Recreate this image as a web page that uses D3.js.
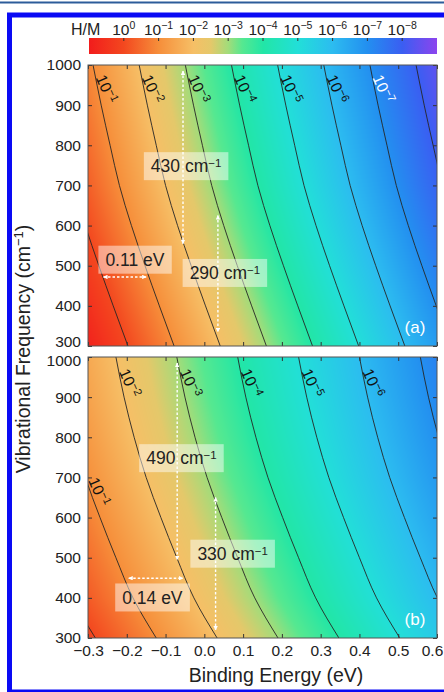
<!DOCTYPE html>
<html>
<head>
<meta charset="utf-8">
<script src="https://cdn.jsdelivr.net/npm/d3@7"></script>
<style>
  html, body { margin: 0; padding: 0; background: #fff; }
  svg { display: block; font-family: "Liberation Sans", Arial, Helvetica, sans-serif; }
</style>
</head>
<body>
<svg id="chart" width="444" height="692"></svg>
<script>
// ---- data -------------------------------------------------------------
// vibrational-frequency rows (cm^-1) at which contour positions are given
const FREQ_ROWS = [1000, 900, 800, 700, 600, 500, 400, 300];
// decades of H/M drawn as contours (log10 values)
const LEVELS = [0, -1, -2, -3, -4, -5, -6, -7, -8];

// binding energy (eV) of each iso-H/M contour, one row per level, one column per FREQ_ROWS entry
const contoursA = [
  [-0.406, -0.385, -0.362, -0.338, -0.307, -0.272, -0.235, -0.197],
  [-0.287, -0.266, -0.243, -0.219, -0.188, -0.153, -0.116, -0.078],
  [-0.168, -0.147, -0.124, -0.100, -0.069, -0.034,  0.003,  0.041],
  [-0.049, -0.028, -0.005,  0.019,  0.050,  0.085,  0.122,  0.160],
  [ 0.070,  0.091,  0.114,  0.138,  0.169,  0.204,  0.241,  0.279],
  [ 0.189,  0.210,  0.233,  0.257,  0.288,  0.323,  0.360,  0.398],
  [ 0.308,  0.329,  0.352,  0.376,  0.407,  0.442,  0.479,  0.517],
  [ 0.427,  0.448,  0.471,  0.495,  0.526,  0.561,  0.598,  0.636],
  [ 0.546,  0.567,  0.590,  0.614,  0.645,  0.680,  0.717,  0.755]
];
const contoursB = [
  [-0.542, -0.521, -0.495, -0.464, -0.426, -0.385, -0.341, -0.281],
  [-0.385, -0.364, -0.338, -0.307, -0.269, -0.228, -0.184, -0.124],
  [-0.228, -0.207, -0.181, -0.150, -0.112, -0.071, -0.027,  0.033],
  [-0.071, -0.050, -0.024,  0.007,  0.045,  0.086,  0.130,  0.190],
  [ 0.086,  0.107,  0.133,  0.164,  0.202,  0.243,  0.287,  0.347],
  [ 0.243,  0.264,  0.290,  0.321,  0.359,  0.400,  0.444,  0.504],
  [ 0.400,  0.421,  0.447,  0.478,  0.516,  0.557,  0.601,  0.661],
  [ 0.557,  0.578,  0.604,  0.635,  0.673,  0.714,  0.758,  0.818],
  [ 0.714,  0.735,  0.761,  0.792,  0.830,  0.871,  0.915,  0.975]
];

// contour labels: [level, frequency at which the label sits, colour]
const labelsA = [[-1, 940, "#111"], [-2, 940, "#111"], [-3, 940, "#111"], [-4, 940, "#111"],
                 [-5, 940, "#111"], [-6, 940, "#111"], [-7, 940, "#fff"]];
const labelsB = [[-1, 664, "#111"], [-2, 935, "#111"], [-3, 935, "#111"], [-4, 935, "#111"],
                 [-5, 935, "#111"], [-6, 935, "#111"]];

// annotation spans: vertical [energy, nuFrom, nuTo], horizontal [nu, eFrom, eTo]
const vSpansA = [[-0.055, 985, 555], [0.035, 625, 335]];
const hSpansA = [[472, -0.260, -0.150]];
const vSpansB = [[-0.070, 985, 495], [0.029, 650, 320]];
const hSpansB = [[449, -0.195, -0.055]];
// annotation texts: [energy, nu, value, unit]
const notesA = [[-0.047, 748, "430", "cm"], [0.053, 482, "290", "cm"], [-0.179, 515, "0.11", "eV"]];
const notesB = [[-0.059, 748, "490", "cm"], [0.073, 510, "330", "cm"], [-0.134, 401, "0.14", "eV"]];

const X_TICKS = [-0.3, -0.2, -0.1, 0.0, 0.1, 0.2, 0.3, 0.4, 0.5, 0.6];
const Y_TICKS = [300, 400, 500, 600, 700, 800, 900, 1000];
const BAR_TICKS = [0, -1, -2, -3, -4, -5, -6, -7, -8];

// colour map over log10(H/M)
const STOP_LEVELS = [1, 0, -1, -2, -2.5, -3, -3.4, -4, -5, -6, -7, -8, -9];
const STOP_COLORS = ["#f21c1c", "#f3481f", "#f68e3a", "#f6bf66", "#e4c86a", "#a2dc7a", "#56e890",
                     "#22e6a6", "#22dfd8", "#2cbcf0", "#238ff0", "#3a5ef2", "#8c44ee"];

// ---- setup ------------------------------------------------------------
const svg = d3.select("#chart");
const FONT = '"Liberation Sans", Arial, Helvetica, sans-serif';
const color = d3.scaleLinear().domain(STOP_LEVELS).range(STOP_COLORS).clamp(true);
const x = d3.scaleLinear().domain([-0.3, 0.6]).range([88, 437]);

// page rules and frame
svg.append("rect").attr("x", 0).attr("y", 1.5).attr("width", 444).attr("height", 2).attr("fill", "#2c5c9a");
svg.append("rect").attr("x", 9.5).attr("y", 15).attr("width", 450).attr("height", 677)
  .attr("fill", "none").attr("stroke", "#0a0af4").attr("stroke-width", 5);

// arrow markers
const defs = svg.append("defs");
defs.append("marker").attr("id", "head").attr("viewBox", "0 0 10 10")
  .attr("refX", 9).attr("refY", 5).attr("markerWidth", 4.5).attr("markerHeight", 4.5)
  .attr("markerUnits", "userSpaceOnUse")
  .attr("orient", "auto-start-reverse")
  .append("path").attr("d", "M0,0 L10,5 L0,10 Z").attr("fill", "#fff");

// ---- colour bar -------------------------------------------------------
const bar = d3.scaleLinear().domain([1, -9]).range([89, 437]);
const grad = defs.append("linearGradient").attr("id", "barGrad")
  .attr("gradientUnits", "userSpaceOnUse").attr("x1", bar(1)).attr("x2", bar(-9)).attr("y1", 0).attr("y2", 0);
STOP_LEVELS.forEach((l, i) => {
  grad.append("stop").attr("offset", (1 - l) / 10).attr("stop-color", STOP_COLORS[i]);
});
svg.append("rect").attr("x", 89).attr("y", 38).attr("width", 348).attr("height", 16).attr("fill", "url(#barGrad)");
svg.selectAll(".barTick").data(BAR_TICKS).join("line")
  .attr("x1", d => bar(d)).attr("x2", d => bar(d)).attr("y1", 38).attr("y2", 41)
  .attr("stroke", "#333").attr("stroke-width", 1);
svg.append("text").attr("x", 71).attr("y", 35).attr("font-size", 16).attr("fill", "#222").text("H/M");
BAR_TICKS.forEach(d => {
  const t = svg.append("text").attr("x", bar(d)).attr("y", 35).attr("text-anchor", "middle")
    .attr("font-size", 15.5).attr("fill", "#222");
  t.append("tspan").text("10");
  t.append("tspan").attr("dy", -6).attr("font-size", 10.5).text(d === 0 ? "0" : "\u2212" + (-d));
});

// ---- panels -----------------------------------------------------------
function levelAt(contours, nu) {
  return contours.map(row => d3.scaleLinear().domain(FREQ_ROWS).range(row)(nu));
}

function drawPanel(cfg) {
  const { top, bottom, contours, labels, vSpans, hSpans, notes, tag, xLabels, id, yNudge } = cfg;
  const y = d3.scaleLinear().domain([300, 1000]).range([bottom, top]);
  const x0 = x.range()[0], x1 = x.range()[1];
  const pw = Math.round(x1 - x0), ph = Math.round(bottom - top);

  // colour field rendered from the contour table
  const canvas = document.createElement("canvas");
  canvas.width = pw; canvas.height = ph;
  const ctx = canvas.getContext("2d");
  const img = ctx.createImageData(pw, ph);
  for (let j = 0; j < ph; j++) {
    const nu = y.invert(top + j + 0.5);
    const es = levelAt(contours, nu);
    const lv = d3.scaleLinear().domain(es).range(LEVELS);
    for (let i = 0; i < pw; i++) {
      const c = d3.rgb(color(lv(x.invert(x0 + i + 0.5))));
      const k = (j * pw + i) * 4;
      img.data[k] = c.r; img.data[k + 1] = c.g; img.data[k + 2] = c.b; img.data[k + 3] = 255;
    }
  }
  ctx.putImageData(img, 0, 0);

  const clipId = "clip" + id;
  defs.append("clipPath").attr("id", clipId)
    .append("rect").attr("x", x0).attr("y", top).attr("width", pw).attr("height", ph);

  const g = svg.append("g");
  g.append("image").attr("x", x0).attr("y", top).attr("width", pw).attr("height", ph)
    .attr("preserveAspectRatio", "none").attr("href", canvas.toDataURL());

  const plot = g.append("g").attr("clip-path", `url(#${clipId})`);

  // iso-H/M contour lines
  const line = d3.line().x(d => x(d[0])).y(d => y(d[1])).curve(d3.curveMonotoneY);
  contours.forEach(row => {
    plot.append("path").attr("d", line(row.map((e, k) => [e, FREQ_ROWS[k]])))
      .attr("fill", "none").attr("stroke", "#262626").attr("stroke-width", 0.9);
  });

  // contour labels
  labels.forEach(([lev, nu, fill]) => {
    const e = levelAt(contours, nu)[LEVELS.indexOf(lev)];
    const t = plot.append("text")
      .attr("transform", `translate(${x(e) + 8.5},${y(nu)}) rotate(66)`)
      .attr("text-anchor", "middle").attr("font-size", 15.5).attr("fill", fill);
    t.append("tspan").attr("dy", "0.35em").text("10");
    t.append("tspan").attr("dy", "-0.5em").attr("font-size", 11).text("\u2212" + (-lev));
  });

  // dashed double-headed spans
  const dash = sel => sel.attr("stroke", "#fff").attr("stroke-width", 1.4).attr("stroke-dasharray", "2.5,2")
    .attr("marker-start", "url(#head)").attr("marker-end", "url(#head)");
  vSpans.forEach(([e, n1, n2]) => {
    plot.append("line").attr("x1", x(e)).attr("x2", x(e)).attr("y1", y(n1)).attr("y2", y(n2)).call(dash);
  });
  hSpans.forEach(([nu, e1, e2]) => {
    plot.append("line").attr("x1", x(e1)).attr("x2", x(e2)).attr("y1", y(nu)).attr("y2", y(nu)).call(dash);
  });

  // translucent annotation boxes
  notes.forEach(([e, nu, val, unit]) => {
    const box = plot.append("g");
    const rect = box.append("rect").attr("fill", "#fff").attr("fill-opacity", 0.48);
    const t = box.append("text").attr("x", x(e)).attr("y", y(nu)).attr("dy", "0.36em")
      .attr("text-anchor", "middle").attr("font-size", 17.5).attr("fill", "#222");
    if (unit === "cm") {
      t.append("tspan").text(val + " cm");
      t.append("tspan").attr("dy", "-0.45em").attr("font-size", 11.5).text("\u22121");
    } else {
      t.append("tspan").text(val + " eV");
    }
    const bb = t.node().getBBox();
    rect.attr("x", bb.x - 7).attr("y", y(nu) - 14).attr("width", bb.width + 14).attr("height", 28);
  });

  // panel tag
  plot.append("text").attr("x", 415).attr("y", bottom - 13).attr("text-anchor", "middle")
    .attr("font-size", 17).attr("fill", "#fff").text(tag);

  // axes with inward ticks
  const ax = svg.append("g").attr("font-family", FONT);
  const left = ax.append("g").attr("transform", `translate(${x0},0)`)
    .call(d3.axisLeft(y).tickValues(Y_TICKS).tickSizeInner(-4).tickSizeOuter(0).tickPadding(7).tickFormat(d3.format("d")));
  ax.append("g").attr("transform", `translate(${x1},0)`)
    .call(d3.axisRight(y).tickValues(Y_TICKS).tickSizeInner(-4).tickSizeOuter(0).tickFormat(""));
  ax.append("g").attr("transform", `translate(0,${top})`)
    .call(d3.axisTop(x).tickValues(X_TICKS).tickSizeInner(-4).tickSizeOuter(0).tickFormat(""));
  const btm = ax.append("g").attr("transform", `translate(0,${bottom})`)
    .call(d3.axisBottom(x).tickValues(X_TICKS).tickSizeInner(-4).tickSizeOuter(0).tickPadding(7)
      .tickFormat(xLabels ? d3.format(".1f") : ""));
  ax.selectAll(".domain").remove();
  ax.selectAll(".tick line").attr("stroke", "#333");
  ax.selectAll(".tick text").attr("font-size", 15.5).attr("fill", "#222").attr("font-family", FONT);
  // keep the shared 300 / 1000 labels between the panels apart, and the last x label inside
  left.selectAll(".tick text").filter(d => d === yNudge[0])
    .attr("transform", `translate(0,${yNudge[1]})`);
  btm.selectAll(".tick text").filter(d => d === 0.6).attr("dx", -5);

  svg.append("rect").attr("x", x0).attr("y", top).attr("width", pw).attr("height", ph)
    .attr("fill", "none").attr("stroke", "#555").attr("stroke-width", 1);
}

drawPanel({ id: "A", top: 65, bottom: 346, contours: contoursA, labels: labelsA,
  vSpans: vSpansA, hSpans: hSpansA, notes: notesA, tag: "(a)", xLabels: false, yNudge: [300, -4] });
drawPanel({ id: "B", top: 357, bottom: 638, contours: contoursB, labels: labelsB,
  vSpans: vSpansB, hSpans: hSpansB, notes: notesB, tag: "(b)", xLabels: true, yNudge: [1000, 4] });

// ---- axis titles --------------------------------------------------------
svg.append("text").attr("x", 276).attr("y", 682).attr("text-anchor", "middle")
  .attr("font-size", 19.5).attr("fill", "#222").text("Binding Energy (eV)");
const yt = svg.append("text").attr("transform", "translate(30,349) rotate(-90)")
  .attr("text-anchor", "middle").attr("font-size", 19.5).attr("fill", "#222");
yt.append("tspan").text("Vibrational Frequency (cm");
yt.append("tspan").attr("dy", -7).attr("font-size", 13).text("\u22121");
yt.append("tspan").attr("dy", 7).text(")");
</script>
</body>
</html>
